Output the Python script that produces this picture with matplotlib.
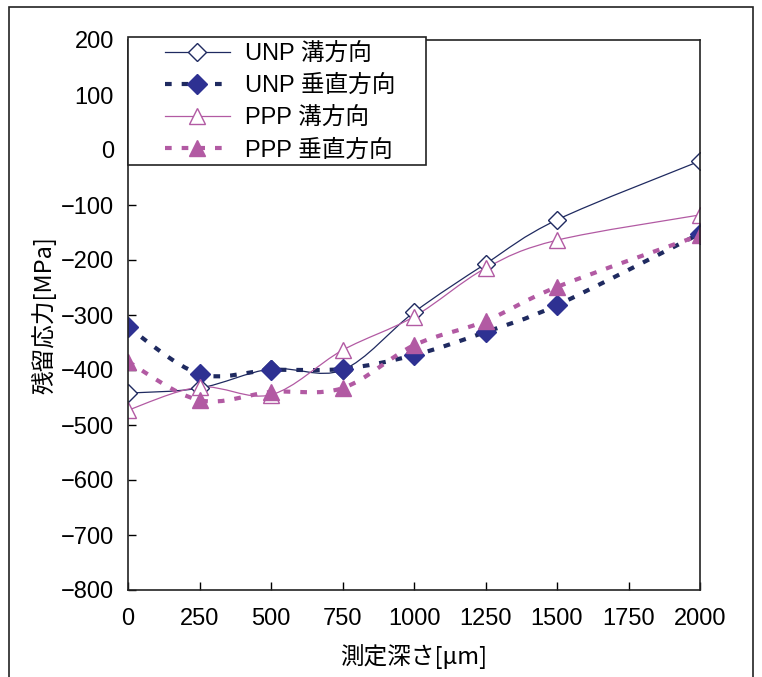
import numpy as np
import matplotlib
matplotlib.use("Agg")
import matplotlib.pyplot as plt
from matplotlib.path import Path
from matplotlib.patches import PathPatch, Rectangle
from matplotlib.lines import Line2D

plt.rcParams['font.family'] = ['Liberation Sans', 'Noto Sans CJK JP', 'DejaVu Sans']

# depth [um]
depth = [0, 250, 500, 750, 1000, 1250, 1500, 2000]

# residual stress [MPa]
unp_groove = [-442, -433, -398, -400, -295, -207, -127, -20]
unp_vert = [-322, -407, -400, -398, -373, -331, -282, -152]
ppp_groove = [-473, -431, -445, -364, -303, -215, -164, -118]
ppp_vert = [-385, -455, -440, -433, -355, -311, -249, -155]

labels = ["UNP 溝方向", "UNP 垂直方向", "PPP 溝方向", "PPP 垂直方向"]

navy = "#2E3192"
navy_line = "#1F2A60"
pink = "#B25AA3"


def smooth_path(x, y):
    # Excel-style smoothed line (Catmull-Rom as cubic bezier)
    p = np.column_stack([x, y]).astype(float)
    n = len(p)
    verts = [p[0]]
    codes = [Path.MOVETO]
    for i in range(n - 1):
        p0 = p[i - 1] if i > 0 else p[i]
        p3 = p[i + 2] if i + 2 < n else p[i + 1]
        c1 = p[i] + (p[i + 1] - p0) / 6
        c2 = p[i + 1] - (p3 - p[i]) / 6
        verts += [c1, c2, p[i + 1]]
        codes += [Path.CURVE4] * 3
    return Path(verts, codes)


fig = plt.figure(figsize=(7.62, 6.77), dpi=100)
ax = fig.add_axes([128 / 762, 1 - 590 / 677, 572 / 762, 550 / 677])

dot = (0, (1.6, 2.4))
series = [
    (unp_groove, navy_line, 0.9, '-', 'D', 'white', navy_line, 9),
    (unp_vert, navy_line, 3.0, dot, 'D', navy, navy, 10),
    (ppp_groove, pink, 0.9, '-', '^', 'white', pink, 12),
    (ppp_vert, pink, 3.0, dot, '^', pink, pink, 12),
]

handles = []
for (vals, col, lw, ls, mk, mfc, mec, ms), lab in zip(series, labels):
    ax.add_patch(PathPatch(smooth_path(depth, vals), fill=False, edgecolor=col,
                           lw=lw, linestyle=ls, capstyle='butt'))
    ax.plot(depth, vals, linestyle='none', marker=mk, ms=ms, mfc=mfc, mec=mec, mew=1.0)
    handles.append(Line2D([], [], color=col, lw=lw, linestyle=ls, marker=mk,
                          ms=ms, mfc=mfc, mec=mec, mew=1.0))

ax.set_xlim(0, 2000)
ax.set_ylim(-800, 200)
ax.set_xticks(range(0, 2001, 250))
ax.set_yticks(range(-800, 201, 100))
ax.set_yticklabels([str(v).replace('-', '−') for v in range(-800, 201, 100)])
ax.tick_params(direction='in', length=6, width=1, labelsize=17, pad=10)
ax.tick_params(axis='x', pad=13)
for s in ax.spines.values():
    s.set_linewidth(1.2)
    s.set_color('#222222')

ax.set_xlabel("測定深さ[μm]", fontsize=17, labelpad=10,
              family=['Noto Sans CJK JP', 'DejaVu Sans'])
ax.set_ylabel("残留応力[MPa]", fontsize=17, labelpad=3,
              family=['Noto Sans CJK JP', 'DejaVu Sans'])

# legend box (frame drawn separately, wider than the entries like the original)
ax.add_patch(Rectangle((0, (590 - 165) / 550), 298 / 572, 128 / 550,
                       transform=ax.transAxes, facecolor='white',
                       edgecolor='#222222', lw=1.2, zorder=4, clip_on=False))
leg = ax.legend(handles, labels, loc='upper left',
                bbox_to_anchor=(37 / 572, (590 - 43) / 550),
                borderaxespad=0, borderpad=0, frameon=False,
                handlelength=2.75, handletextpad=0.65, labelspacing=0.42,
                prop={'family': ['Liberation Sans', 'Noto Sans CJK JP'], 'size': 17})
leg.set_zorder(5)

fig.patches.append(Rectangle((9 / 762, -0.05), 744 / 762, 1 - 7 / 677 + 0.05,
                             transform=fig.transFigure, fill=False,
                             edgecolor='#222222', lw=1.2))

fig.savefig("out.png", dpi=100)
